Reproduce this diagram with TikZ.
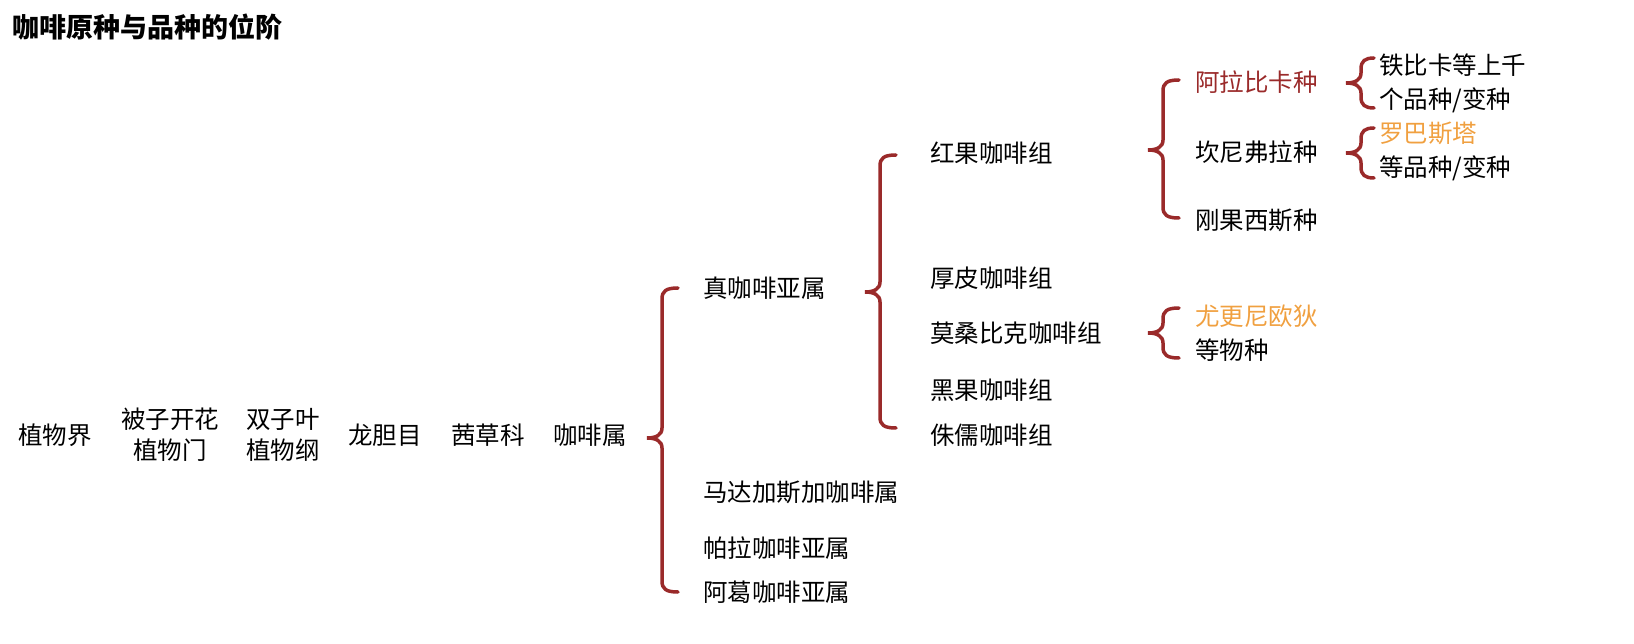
\documentclass[tikz,border=0pt]{standalone}
\usepackage{fontspec}
\setmainfont{Noto Sans CJK SC}
\definecolor{br}{HTML}{9A2A2A}
\definecolor{og}{HTML}{F0A040}
\tikzset{lbl/.style={anchor=west,inner sep=0pt,font=\fontsize{24.5}{29}\selectfont},
 ctr/.style={align=center,inner sep=0pt,font=\fontsize{24.5}{31}\selectfont},
 brace/.style={draw=br,line width=3.5pt,line cap=round}}
\newcommand{\brc}[5][16]{% [hook], x, top, bottom, mid
 \draw[brace] (#2+#1,#3) .. controls (#2+4,#3) and (#2,#3+3) .. (#2,#3+11) -- (#2,#5-10) .. controls (#2,#5-3) and (#2-6,#5) .. (#2-15,#5) .. controls (#2-6,#5) and (#2,#5+3) .. (#2,#5+10) -- (#2,#4-11) .. controls (#2,#4-3) and (#2+4,#4) .. (#2+#1,#4);}
\begin{document}
\begin{tikzpicture}[x=1pt,y=-1pt]
\useasboundingbox (0,0) rectangle (1634,644);
\node[anchor=west,inner sep=0pt,font=\fontsize{27}{30}\selectfont\bfseries] (t) at (12,27) {咖啡原种与品种的位阶};
\node[ctr] (a1) at (55,435) {植物界};
\node[ctr] (a2) at (170,435) {被子开花\\植物门};
\node[ctr] (a3) at (283,435) {双子叶\\植物纲};
\node[ctr] (a4) at (385,435) {龙胆目};
\node[ctr] (a5) at (488,435) {茜草科};
\node[ctr] (a6) at (590,435) {咖啡属};
\brc{662}{288}{592}{438}
\node[lbl] (b1) at (703,288) {真咖啡亚属};
\node[lbl] (b2) at (703,492) {马达加斯加咖啡属};
\node[lbl] (b3) at (703,548) {帕拉咖啡亚属};
\node[lbl] (b4) at (703,592) {阿葛咖啡亚属};
\brc{880}{155}{428}{292}
\node[lbl] (c1) at (930,153) {红果咖啡组};
\node[lbl] (c2) at (930,278) {厚皮咖啡组};
\node[lbl] (c3) at (930,333) {莫桑比克咖啡组};
\node[lbl] (c4) at (930,390) {黑果咖啡组};
\node[lbl] (c5) at (930,435) {侏儒咖啡组};
\brc{1163}{80}{218}{150}
\node[lbl,text=br] (d1) at (1195,82) {阿拉比卡种};
\node[lbl] (d2) at (1195,152) {坎尼弗拉种};
\node[lbl] (d3) at (1195,220) {刚果西斯种};
\brc{1163}{308}{358}{333}
\node[lbl,text=og] (d4) at (1195,316) {尤更尼欧狄};
\node[lbl] (d5) at (1195,350) {等物种};
\brc[13]{1361}{58}{108}{83}
\node[lbl] (e1) at (1379,65) {铁比卡等上千};
\node[lbl] (e2) at (1379,100) {个品种/变种};
\brc[13]{1361}{128}{178}{153}
\node[lbl,text=og] (e3) at (1379,133) {罗巴斯塔};
\node[lbl] (e4) at (1379,168) {等品种/变种};
\end{tikzpicture}
\end{document}
